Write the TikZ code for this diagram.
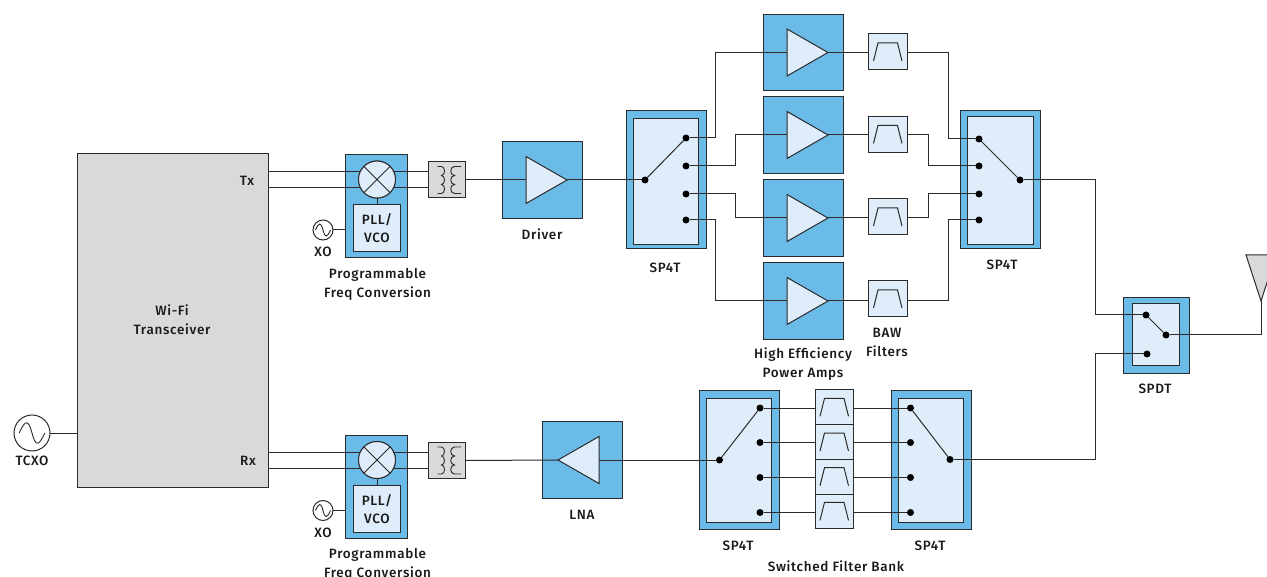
\documentclass[tikz,border=0pt]{standalone}
\usepackage{fontspec}
\setmainfont{Fira Sans}[UprightFont=* Medium,LetterSpace=5]
\usetikzlibrary{shapes.geometric}
\definecolor{ablue}{HTML}{6BBBE9}
\definecolor{alight}{HTML}{DFECFA}
\definecolor{agray}{HTML}{D9D9D9}
\definecolor{aline}{HTML}{2B2B2B}
\tikzset{
  box/.style={draw=aline,line width=1pt,inner sep=0pt,outer sep=0pt,rectangle},
  bluebox/.style={box,fill=ablue},
  lightbox/.style={box,fill=alight},
  graybox/.style={box,fill=agray},
  ampshape/.style={draw=aline,line width=1pt,fill=alight,isosceles triangle,isosceles triangle stretches,
     minimum height=41pt,minimum width=47pt,inner sep=0pt,outer sep=0pt},
  swdot/.style={circle,fill=black,minimum size=7pt,inner sep=0pt,outer sep=0pt},
  wire/.style={draw=aline,line width=1pt},
  lab/.style={font=\fontsize{13.5}{19}\selectfont,align=center,inner sep=0pt,text=black!90},
  circ/.style={draw=aline,line width=1pt,circle,fill=white,inner sep=0pt,outer sep=0pt},
}
% box with corners
\newcommand{\rbox}[6]{\node[#2,minimum width={(#5)-(#3)},minimum height={(#6)-(#4)}] (#1) at ({(#3+#5)/2},{(#4+#6)/2}) {};}
\newcommand{\filt}[3]{\node[lightbox,minimum width=39,minimum height=36] (#1) at (#2,#3) {};
  \draw[wire,shift={(#1.center)}] (-14,9) -- (-9.5,-9) -- (10,-9) -- (14.5,9);}
\newcommand{\bankfilt}[3]{\node[lightbox,minimum width=38,minimum height=34.7] (#1) at (#2,#3) {};
  \draw[wire,shift={(#1.center)}] (-14,9) -- (-9.5,-9) -- (10,-9) -- (14.5,9);}
\newcommand{\sine}[2]{\draw[wire,line width=.9pt,shift={(#1.center)},scale=#2] (-7.5,0) .. controls (-4,-8) and (-2,-8) .. (0,0) .. controls (2,8) and (4,8) .. (7.5,0);}
\newcommand{\xfmr}[3]{\node[graybox,minimum width=37,minimum height=36] (#1) at (#2,#3) {};
  \draw[wire,line width=.9pt,shift={(#1.center)}]
    (-9,-13.5) -- (-5,-13.5) .. controls (-1,-13.5) and (-1,-4.5) .. (-5,-4.5)
    .. controls (-1,-4.5) and (-1,4.5) .. (-5,4.5) .. controls (-1,4.5) and (-1,13.5) .. (-5,13.5) -- (-9,13.5)
    (14.5,-13.5) -- (8,-13.5) .. controls (3,-13.5) and (3,-4.5) .. (8,-4.5)
    .. controls (3,-4.5) and (3,4.5) .. (8,4.5) .. controls (3,4.5) and (3,13.5) .. (8,13.5) -- (14.5,13.5);}
\newcommand{\amp}[3]{% name, box centre
  \node[bluebox,minimum width=80,minimum height=76.5] (#1box) at (#2,#3) {};
  \node[ampshape,anchor=apex] (#1) at (#2+25,#3) {};}
\newcommand{\conv}[2]{% prefix, y offset
  \rbox{#1box}{bluebox}{345}{155+#2}{407.5}{258+#2}
  \node[circ,fill=alight,minimum size=37] (#1mix) at (377,179.5+#2) {};
  \rbox{#1pll}{lightbox}{353.5}{205+#2}{400.5}{251.5+#2}
  \node[lab] (#1plltext) at (#1pll) {PLL/\\[-1pt]VCO};
  \draw[wire] (#1mix) -- (#1pll);
  \node[circ,minimum size=20] (#1xo) at (323,230+#2) {};
  \sine{#1xo}{1}
  \draw[wire] (#1xo) -- (#1box.west |- #1xo);
  \node[lab] (#1xotext) at (323,252+#2) {XO};
  \node[lab] (#1progtext) at (377.5,284+#2) {Programmable\\Freq Conversion};
  \xfmr{#1xf}{446.5}{180+#2}
}
\begin{document}
\begin{tikzpicture}[x=1pt,y=-1pt]
\path[use as bounding box] (0,0) rectangle (1267,577);
\clip (0,0) rectangle (1267,577);
% transceiver
\rbox{trx}{graybox}{77}{154}{268}{487}
\node[lab] (trxt) at (172,320) {Wi-Fi\\Transceiver};
\node[lab] (txt) at (247,180.5) {Tx};
\node[lab] (rxt) at (248,460.5) {Rx};
\node[circ,minimum size=36] (tcxo) at (32,433) {};
\sine{tcxo}{1.7}
\draw[wire] (tcxo) -- (trx.west |- tcxo);
\node[lab] (tcxot) at (32,460.5) {TCXO};
% frequency conversion
\conv{a}{0}
\conv{b}{280.5}
\foreach \p/\ya/\yb in {a/172/188,b/452.5/468.5}{
  \draw[wire] (trx.east |- 0,\ya) -- (\p mix.center |- 0,\ya);
  \draw[wire] (trx.east |- 0,\yb) -- (\p mix.center |- 0,\yb);
}
% redraw mixers above the wires
\foreach \p in {a,b}{
  \node[circ,fill=alight,minimum size=37] at (\p mix) {};
  \draw[wire] (\p mix.north west) -- (\p mix.south east) (\p mix.north east) -- (\p mix.south west);
}
\foreach \p/\ya/\yb in {a/172/188,b/452.5/468.5}{
  \draw[wire] (\p mix.east |- 0,\ya) ++(-3,0) -- (\p xf.west |- 0,\ya);
  \draw[wire] (\p mix.east |- 0,\yb) ++(-3,0) -- (\p xf.west |- 0,\yb);
}
% driver
\amp{drv}{542}{180}
\node[lab] (drvt) at (542,234.5) {Driver};
\draw[wire] (axf.east) -- (drv.west);
% LNA
\node[bluebox,minimum width=80,minimum height=76.5] (lnabox) at (582,460) {};
\node[ampshape,shape border rotate=180,anchor=apex] (lna) at (558,460) {};
\node[lab] (lnat) at (582,514.5) {LNA};
\draw[wire] (bxf.east) -- (lna.apex);
% upper left SP4T
\rbox{sa}{bluebox}{626}{111}{706}{249}
\rbox{sai}{lightbox}{633}{118.5}{698.5}{245}
\node[lab] (sat) at (665,267.5) {SP4T};
\node[swdot] (sap) at (645,180) {};
\node[swdot] (sa1) at (686,138) {};
\node[swdot] (sa2) at (686,166) {};
\node[swdot] (sa3) at (686,194) {};
\node[swdot] (sa4) at (686,220) {};
\draw[wire] (sap) -- (sa1);
\draw[wire] (drv.apex) -- (sap);
% power amps
\amp{pa1}{803}{52.5}
\amp{pa2}{803}{135}
\amp{pa3}{803}{218}
\amp{pa4}{803}{301}
\filt{f1}{887.5}{52}
\filt{f2}{887.5}{134.5}
\filt{f3}{887.5}{217}
\filt{f4}{887.5}{299}
\draw[wire] (sa1) -- ++(29,0) |- (pa1.west);
\draw[wire] (sa2) -- ++(49,0) |- (pa2.west);
\draw[wire] (sa3) -- ++(49,0) |- (pa3.west);
\draw[wire] (sa4) -- ++(29,0) |- (pa4.west);
\foreach \i in {1,2,3,4}{ \draw[wire] (pa\i.apex) -- (pa\i.apex -| f\i.west); }
\node[lab] (bawt) at (887,342.5) {BAW\\Filters};
\node[lab] (hept) at (803,364) {High Efficiency\\Power Amps};
% upper right SP4T
\rbox{sb}{bluebox}{960}{110.5}{1040}{249}
\rbox{sbi}{lightbox}{967.5}{117}{1033}{244.5}
\node[lab] (sbt) at (1002,264.5) {SP4T};
\node[swdot] (sbp) at (1020,180) {};
\node[swdot] (sb1) at (979,139) {};
\node[swdot] (sb2) at (979,166) {};
\node[swdot] (sb3) at (979,194) {};
\node[swdot] (sb4) at (979,220) {};
\draw[wire] (sbp) -- (sb1);
\draw[wire] (f1.east |- pa1.apex) -- ++(41.5,0) |- (sb1);
\draw[wire] (f2.east |- pa2.apex) -- ++(21.5,0) |- (sb2);
\draw[wire] (f3.east |- pa3.apex) -- ++(21.5,0) |- (sb3);
\draw[wire] (f4.east |- pa4.apex) -- ++(41.5,0) |- (sb4);
% SPDT
\rbox{sc}{bluebox}{1123}{298}{1189}{373.5}
\rbox{sci}{lightbox}{1132}{304}{1179}{366}
\node[lab] (sct) at (1155,388.5) {SPDT};
\node[swdot] (scp) at (1166,335) {};
\node[swdot] (sc1) at (1146,315) {};
\node[swdot] (sc2) at (1147,354) {};
\draw[wire] (scp) -- (sc1);
\draw[wire] (sbp) -- ++(75,0) |- (sc1);
% antenna
\node[draw=none,inner sep=0pt,minimum size=0pt] (anttip) at (1261,301) {};
\draw[wire,fill=agray] (1246,255) -- (anttip.center) -- (1276,255) -- cycle;
\draw[wire] (scp) -| (anttip.center);
% lower left SP4T
\rbox{sd}{bluebox}{699}{391}{779}{529}
\rbox{sdi}{lightbox}{706.5}{398}{771}{522}
\node[lab] (sdt) at (738,545.5) {SP4T};
\node[swdot] (sdp) at (719.5,460) {};
\node[swdot] (sd1) at (760,408) {};
\node[swdot] (sd2) at (760,442.5) {};
\node[swdot] (sd3) at (760,477.5) {};
\node[swdot] (sd4) at (760,512.5) {};
\draw[wire] (sdp) -- (sd1);
\draw[wire] (lna.east) -- (sdp);
% filter bank
\bankfilt{g1}{834}{407.3}
\bankfilt{g2}{834}{442}
\bankfilt{g3}{834}{476.7}
\bankfilt{g4}{834}{511.4}
% lower right SP4T
\rbox{se}{bluebox}{891}{391}{971}{529}
\rbox{sei}{lightbox}{898.5}{398}{963.5}{522}
\node[lab] (set) at (930,545.5) {SP4T};
\node[swdot] (sep) at (950,459.5) {};
\node[swdot] (se1) at (910.5,408) {};
\node[swdot] (se2) at (910.5,442.5) {};
\node[swdot] (se3) at (910.5,477.5) {};
\node[swdot] (se4) at (910.5,512.5) {};
\draw[wire] (sep) -- (se1);
\foreach \i in {1,2,3,4}{
  \draw[wire] (sd\i) -- (g\i.west |- sd\i);
  \draw[wire] (g\i.east |- se\i) -- (se\i);
}
\draw[wire] (sep) -- ++(145,0) |- (sc2);
\node[lab] (sfbt) at (836,566.5) {Switched Filter Bank};
\end{tikzpicture}
\end{document}
